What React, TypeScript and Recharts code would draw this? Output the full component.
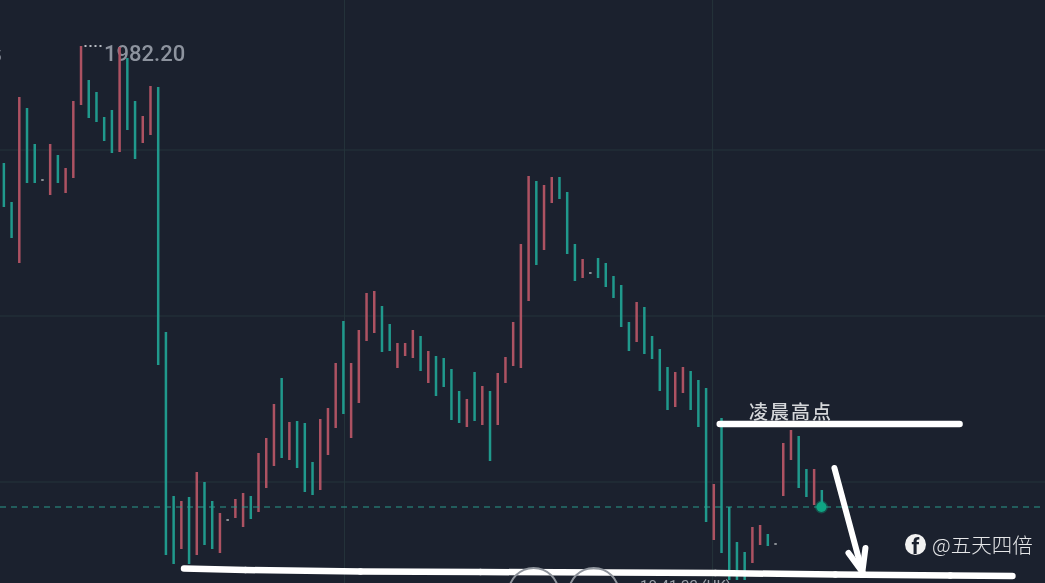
import React from "react";
import {
  Bar,
  CartesianGrid,
  Cell,
  ComposedChart,
  ReferenceDot,
  ReferenceLine,
  XAxis,
  YAxis,
} from "recharts";

const WIDTH = 1045;
const HEIGHT = 583;

const UP = "#ad5262";
const DOWN = "#20998c";
const DOT = "#8a8f94";

const barHigh = [
  1979.86, 1979.08, 1981.18, 1980.96, 1980.24, 1979.54, 1980.24, 1980.02, 1979.76, 1981.1,
  1982.2, 1981.52, 1981.28, 1980.78, 1980.92, 1982.18, 1981.96, 1981.1, 1980.8, 1981.4,
  1981.38, 1976.48, 1973.2, 1973.1, 1973.18, 1973.68, 1973.48, 1973.1, 1972.86, 1972.74,
  1973.14, 1973.26, 1973.2, 1974.06, 1974.36, 1975.04, 1975.56, 1974.68, 1974.7, 1974.66,
  1973.88, 1974.74, 1974.96, 1975.86, 1976.7, 1975.86, 1976.52, 1977.26, 1977.3, 1977.0,
  1976.64, 1976.26, 1976.26, 1976.52, 1976.4, 1976.1, 1976.0, 1975.96, 1975.74, 1975.3,
  1975.14, 1975.68, 1975.4, 1975.3, 1975.66, 1975.98, 1976.68, 1978.24, 1979.6, 1979.5,
  1979.42, 1979.58, 1979.58, 1979.28, 1978.24, 1977.94, 1977.68, 1977.96, 1977.86, 1977.6,
  1977.42, 1976.68, 1977.08, 1976.98, 1976.4, 1976.14, 1975.78, 1975.68, 1975.78, 1975.7,
  1975.52, 1975.36, 1973.44, 1974.76, 1972.98, 1972.28, 1972.08, 1972.58, 1972.62, 1972.44,
  1972.26, 1974.26, 1974.52, 1974.4, 1973.74, 1973.74, 1973.32,
];

const barLow = [
  1978.98, 1978.36, 1977.86, 1979.46, 1979.46, 1979.5, 1979.22, 1979.46, 1979.26, 1979.56,
  1981.02, 1980.76, 1980.68, 1980.3, 1980.06, 1980.08, 1980.52, 1979.94, 1980.26, 1980.42,
  1975.82, 1972.02, 1971.84, 1972.14, 1971.84, 1972.02, 1972.22, 1972.14, 1972.06, 1972.7,
  1972.76, 1972.58, 1972.74, 1972.88, 1973.36, 1973.8, 1973.96, 1973.92, 1973.76, 1973.28,
  1973.22, 1973.32, 1974.02, 1974.56, 1974.84, 1974.36, 1975.06, 1976.3, 1976.46, 1976.08,
  1976.1, 1975.76, 1976.0, 1975.96, 1975.7, 1975.46, 1975.2, 1975.38, 1974.72, 1974.66,
  1974.58, 1974.7, 1974.62, 1973.9, 1974.62, 1975.46, 1975.8, 1975.76, 1977.1, 1977.82,
  1978.12, 1979.06, 1979.14, 1978.04, 1977.5, 1977.56, 1977.64, 1977.56, 1977.38, 1977.16,
  1976.58, 1976.1, 1976.28, 1976.04, 1975.94, 1975.3, 1974.92, 1974.98, 1975.26, 1974.92,
  1974.58, 1972.68, 1972.32, 1972.06, 1971.52, 1971.52, 1971.52, 1971.86, 1972.22, 1972.2,
  1972.22, 1973.2, 1973.92, 1973.36, 1973.18, 1973.02, 1972.96,
];

// u = red, d = green, o = flat tick
const barDir = [
  "d","d","u","d","d","o","u","d","u","u","u","d","d","d","d","u","d","d","u","u","d",
  "d","d","u","d","u","d","d","u","o","u","u","d","u","u","u","d","u","d","d","d","u",
  "u","u","d","u","u","u","u","d","d","u","u","u","d","u","d","d","d","d","u","d","u",
  "d","u","u","u","u","u","d","u","u","d","d","d","u","o","d","d","d","d","d","u","d",
  "d","d","d","u","u","d","d","d","u","d","d","d","d","u","u","d","o","u","u","d","d",
  "u","d",
];

const priceTicks = [1980.12, 1976.8, 1973.48];
const timeTicks = [44.2, 91.9];
const lastPrice = 1972.98;
const lastIndex = 106;
const peakLabel = "1982.20";

const priceDomain = [1971.46, 1983.12];
const indexDomain = [-0.45, 134.97];

// hand drawn marks on top of the chart, as [bar index, price]
const peakDots = [[10.5, 1982.2], [12.83, 1982.2]];
const morningHigh = [[92.82, 1974.64], [123.9, 1974.64]];
const floorLine = [
  [23.4, 1971.75], [31.36, 1971.72], [46.26, 1971.69], [61.81, 1971.68],
  [92.26, 1971.66], [107.8, 1971.63], [122.7, 1971.61], [130.75, 1971.6],
];
const arrowShaft = [[107.68, 1973.76], [111.3, 1971.68]];
const arrowLeft = [[109.5, 1972.06], [111.3, 1971.68]];
const arrowRight = [[111.7, 1972.16], [111.3, 1971.68]];
const playerButtons = [[68.7, 1971.26], [76.5, 1971.26]];

const chartData = barHigh.map((high, i) => ({
  i,
  range: [barLow[i], high],
  dir: barDir[i],
}));

const seg = (pts: number[][]) => pts.map(([x, y]) => ({ x, y }));

function colorOf(dir: string) {
  if (dir === "u") return UP;
  if (dir === "d") return DOWN;
  return DOT;
}

export default function App() {
  const floorSegments = floorLine.slice(1).map((p, k) => [floorLine[k], p]);

  return (
    <div
      style={{
        position: "absolute",
        left: 0,
        top: 0,
        width: WIDTH,
        height: HEIGHT,
        overflow: "hidden",
        background: "#1b212e",
        fontFamily: "Roboto, sans-serif",
        filter: "blur(0.5px)",
      }}
    >
      <div style={{ position: "absolute", left: -7, top: 47, fontSize: 15, color: "#8d939e" }}>5</div>
      <div
        style={{
          position: "absolute",
          left: 104,
          top: 41,
          fontSize: 22,
          lineHeight: "26px",
          fontWeight: 500,
          color: "#8d939e",
        }}
      >
        {peakLabel}
      </div>
      <div
        style={{
          position: "absolute",
          left: 749,
          top: 398,
          fontSize: 19,
          lineHeight: "26px",
          letterSpacing: 2,
          fontWeight: 500,
          color: "#d5d7da",
          fontFamily: "'Noto Sans CJK SC', sans-serif",
        }}
      >
        凌晨高点
      </div>
      <div
        style={{
          position: "absolute",
          left: 640,
          top: 577,
          fontSize: 15,
          lineHeight: "18px",
          color: "#9aa0a8",
        }}
      >
        10:41:22 (UK)
      </div>

      <div style={{ position: "absolute", left: 0, top: 0 }}>
        <ComposedChart
          width={WIDTH}
          height={HEIGHT}
          data={chartData}
          margin={{ top: 0, right: 0, bottom: 0, left: 0 }}
        >
          <CartesianGrid
            stroke="#25343b"
            strokeWidth={1}
            horizontalValues={priceTicks}
            verticalValues={timeTicks}
          />
          <XAxis
            dataKey="i"
            type="number"
            scale="linear"
            domain={indexDomain}
            allowDataOverflow
            hide
          />
          <YAxis type="number" domain={priceDomain} allowDataOverflow hide />

          <ReferenceLine
            y={lastPrice}
            stroke="#2a9a8a"
            strokeWidth={1}
            strokeDasharray="6 5"
          />

          <Bar dataKey="range" barSize={2.5} isAnimationActive={false}>
            {chartData.map((d) => (
              <Cell key={d.i} fill={colorOf(d.dir)} />
            ))}
          </Bar>

          <ReferenceDot
            x={lastIndex}
            y={lastPrice}
            r={5}
            fill="#0fa583"
            stroke="rgba(15,165,131,.35)"
            strokeWidth={3}
            ifOverflow="visible"
          />

          <ReferenceLine
            segment={seg(peakDots)}
            stroke="#b8bcc2"
            strokeWidth={2}
            strokeDasharray="2 3"
            ifOverflow="visible"
          />
          <ReferenceLine
            segment={seg(morningHigh)}
            stroke="#ffffff"
            strokeWidth={6.5}
            strokeLinecap="round"
            ifOverflow="visible"
          />
          {floorSegments.map((s, k) => (
            <ReferenceLine
              key={k}
              segment={seg(s)}
              stroke="#ffffff"
              strokeWidth={6.5}
              strokeLinecap="round"
              ifOverflow="visible"
            />
          ))}
          {[arrowShaft, arrowLeft, arrowRight].map((s, k) => (
            <ReferenceLine
              key={k}
              segment={seg(s)}
              stroke="#ffffff"
              strokeWidth={6}
              strokeLinecap="round"
              ifOverflow="visible"
            />
          ))}
          {playerButtons.map(([x, y], k) => (
            <ReferenceDot
              key={k}
              x={x}
              y={y}
              r={25}
              fill="none"
              stroke="#8f949c"
              strokeWidth={2}
              ifOverflow="visible"
            />
          ))}
        </ComposedChart>
      </div>

      <div
        style={{
          position: "absolute",
          left: 905,
          top: 534,
          width: 21,
          height: 21,
          borderRadius: "50%",
          background: "#f2f2f2",
          color: "#1b212e",
          fontSize: 22,
          fontWeight: 700,
          lineHeight: "25px",
          textAlign: "center",
        }}
      >
        f
      </div>
      <div
        style={{
          position: "absolute",
          left: 932,
          top: 529,
          fontSize: 20.5,
          lineHeight: "30px",
          color: "#e6e7e9",
          fontFamily: "'Noto Sans CJK SC', sans-serif",
          fontWeight: 300,
          whiteSpace: "nowrap",
        }}
      >
        @五天四倍
      </div>
    </div>
  );
}
